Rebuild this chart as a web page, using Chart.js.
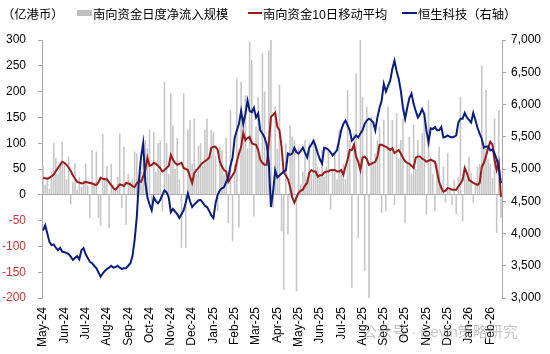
<!DOCTYPE html>
<html>
<head>
<meta charset="utf-8">
<script src="https://cdn.jsdelivr.net/npm/chart.js@4.4.1/dist/chart.umd.min.js"></script>
<style>
  body { margin: 0; background: #fff; }
  #wrap { position: relative; width: 550px; height: 354px; font-family: 'Liberation Sans', 'Noto Sans CJK SC', sans-serif; }
  #wrap span { position: absolute; white-space: nowrap; }
  .lg { top: 5px; font-size: 12.3px; color: #000; }
  .sw { top: 10px; }
  #wm { left: 362px; top: 320px; font-size: 15px; color: rgba(150,150,150,0.55); }
</style>
</head>
<body>
<div id="wrap">
  <canvas id="myChart" width="550" height="354"></canvas>
  <span class="lg" style="left:2px">（亿港币）</span>
  <span class="sw" style="left:77px;width:15px;height:6px;background:#bfbfbf"></span>
  <span class="lg" style="left:93px">南向资金日度净流入规模</span>
  <span class="sw" style="left:248px;top:12px;width:14px;height:2px;background:#9b1c1c"></span>
  <span class="lg" style="left:263px">南向资金10日移动平均</span>
  <span class="sw" style="left:402px;top:12px;width:15px;height:2px;background:#0b1e80"></span>
  <span class="lg" style="left:418px">恒生科技（右轴）</span>
  <span id="wm">公众号 · Kevin策略研究</span>
</div>
<script>
// month tick labels, one per 10 points
var months = ['May-24','Jun-24','Jul-24','Aug-24','Sep-24','Oct-24','Nov-24','Dec-24',
  'Jan-25','Feb-25','Mar-25','Apr-25','May-25','Jun-25','Jul-25','Aug-25','Sep-25',
  'Oct-25','Nov-25','Dec-25','Jan-26','Feb-26'];

// southbound daily net inflow (100m HKD)
var flowDaily = [
  55, 20, 35, 12, 45, 100, 71, 40, 60, 103,
  60, 30, 74, -19, 25, 61, 10, 35, 15, 28,
  61, 18, -45, 87, 25, 84, -45, -60, 118, 30,
  55, -65, 60, 20, 8, 35, 119, -25, 93, -58,
  40, 25, 30, 84, 80, 15, 45, 60, 106, 90,
  126, -32, 122, 45, 100, 105, -32, 219, 100, 40,
  197, 135, 50, 110, 30, -103, 197, -103, 126, 145,
  60, 148, 40, 95, 100, 55, 126, 148, 70, 126,
  122, 75, -32, 93, 87, 40, 110, -55, 164, -90,
  60, 226, -64, 219, 151, 193, 90, 297, 261, -42,
  132, 190, 70, 274, 200, 60, 280, 300, -25, 171,
  90, 213, -71, -184, 100, -77, 135, 113, 106, -187,
  93, 20, 45, 106, 30, 100, 40, 106, 96, 55,
  40, 87, 35, 55, 87, -29, 50, 80, 30, 126,
  45, 60, 30, 203, 106, -180, 119, 235, -84, 300,
  190, -148, 171, -200, 151, 60, 80, 106, 132, -35,
  145, -32, 171, 90, 145, -20, 158, 70, 106, 148,
  -55, 60, 113, 40, 136, 50, 106, 70, 119, 158,
  -38, 184, 74, 40, -32, 61, 93, 20, 55, -15,
  81, 10, -20, 29, -38, 35, 190, -52, 48, 30,
  74, 42, -15, 20, 55, 60, 251, 90, 203, 70,
  60, 32, 148, -74, 164, -45
];

// 10-day moving average
var flowMA10 = [
  33, 32, 31, 33, 36, 39, 46, 52, 58, 64,
  62, 58, 53, 46, 38, 31, 25, 24, 22, 23,
  25, 24, 23, 22, 20, 19, 24, 33, 31, 30,
  30, 24, 19, 13, 10, 15, 20, 19, 17, 23,
  22, 20, 17, 15, 22, 27, 25, 35, 48, 72,
  56, 58, 62, 60, 56, 52, 45, 48, 52, 56,
  77, 68, 62, 58, 60, 62, 52, 50, 48, 35,
  23, 42, 48, 52, 58, 62, 65, 68, 72, 91,
  93, 93, 87, 64, 55, 48, 45, 25, 32, 38,
  45, 64, 80, 93, 120, 106, 110, 112, 100, 98,
  97, 87, 68, 62, 58, 58, 100, 151, 155, 159,
  132, 125, 93, 43, 38, 30, 15, -5, -15, -5,
  4, 8, 10, 18, 23, 43, 48, 45, 45, 35,
  38, 38, 43, 45, 45, 48, 48, 48, 45, 45,
  48, 39, 55, 68, 87, 87, 97, 74, 64, 48,
  72, 74, 70, 58, 60, 62, 64, 74, 97, 97,
  95, 93, 90, 87, 90, 81, 84, 87, 80, 72,
  65, 62, 60, 56, 52, 72, 74, 74, 70, 68,
  64, 66, 68, 66, 64, 45, 25, 13, 6, 8,
  13, 12, 10, 10, 10, 16, 22, 29, 52, 42,
  29, 26, 23, 21, 19, 23, 54, 62, 75, 91,
  103, 97, 68, 48, 62, -4
];

// Hang Seng TECH index (right axis)
var hstech = [
  4050, 4130, 4000, 3870, 3820, 3830, 3780, 3740, 3780, 3720,
  3710, 3700, 3680, 3640, 3590, 3620, 3650, 3600, 3740, 3775,
  3680, 3620, 3560, 3540, 3500, 3465, 3400, 3330, 3380, 3420,
  3450, 3470, 3500, 3470, 3480, 3500, 3470, 3450, 3460, 3465,
  3500, 3540, 3650, 3900, 4250, 4820, 5180, 5400, 4800, 4560,
  4450, 4360, 4560, 4500, 4470, 4520, 4600, 4670, 4640, 4560,
  4330, 4380, 4340, 4300, 4240, 4300, 4360, 4480, 4620, 4500,
  4410, 4450, 4480, 4515, 4520, 4480, 4430, 4410, 4350, 4280,
  4240, 4470, 4600, 4670, 4700, 4720, 4800, 4870, 5050, 5180,
  5490, 5600, 5700, 5900, 5700, 5850, 6060, 5900, 5880, 5950,
  5800, 5860, 5600, 5550, 5490, 5380, 5100, 4410, 4650, 4980,
  4870, 4900, 4930, 4960, 4980, 5240, 5220, 5240, 5330, 5260,
  5240, 5280, 5330, 5250, 5180, 5330, 5380, 5440, 5350, 5240,
  5150, 5085, 5330, 5320, 5300, 5260, 5210, 5250, 5290, 5440,
  5600, 5700, 5750, 5680, 5600, 5440, 5480, 5520, 5490, 5550,
  5600, 5700, 5750, 5780, 5760, 5720, 5600, 5800, 5950, 6060,
  6320, 6200, 6290, 6370, 6550, 6680, 6520, 6400, 6210, 5950,
  5780, 5950, 6100, 6170, 6010, 5900, 5800, 5850, 5930, 5850,
  5600, 5410, 5630, 5620, 5650, 5600, 5600, 5650, 5490, 5500,
  5520, 5500, 5490, 5500, 5520, 5720, 5780, 5780, 5870, 5800,
  5760, 5720, 5870, 5760, 5640, 5550, 5470, 5330, 5350, 5350,
  5290, 5300, 5240, 5150, 5025, 4780
];

var labels = flowDaily.map(function(v, i) {
  return i % 10 === 0 ? months[i / 10] : '';
});

Chart.defaults.font.family = "'Liberation Sans', Arial, sans-serif";
Chart.defaults.font.size = 12;
Chart.defaults.color = '#000';

var axisGrey = '#a6a6a6';

var ctx = document.getElementById('myChart').getContext('2d');
var myChart = new Chart(ctx, {
  type: 'bar',
  data: {
    labels: labels,
    datasets: [
      {
        type: 'line',
        label: '恒生科技（右轴）',
        data: hstech,
        yAxisID: 'y1',
        borderColor: '#0b1e80',
        borderWidth: 2,
        pointRadius: 0,
        order: 1
      },
      {
        type: 'line',
        label: '南向资金10日移动平均',
        data: flowMA10,
        yAxisID: 'y',
        borderColor: '#9b1c1c',
        borderWidth: 2,
        pointRadius: 0,
        order: 2
      },
      {
        label: '南向资金日度净流入规模',
        data: flowDaily,
        yAxisID: 'y',
        backgroundColor: '#c6c6c6',
        barPercentage: 0.75,
        categoryPercentage: 1,
        order: 3
      }
    ]
  },
  options: {
    responsive: false,
    animation: false,
    layout: { padding: { top: 40, bottom: 0, left: 0, right: 0 } },
    plugins: { legend: { display: false }, tooltip: { enabled: false } },
    scales: {
      x: {
        grid: { display: false, drawTicks: false },
        border: { display: false },
        ticks: { autoSkip: false, minRotation: 90, maxRotation: 90, padding: 9 },
        afterFit: function(scale) { scale.height = 56; scale.paddingLeft = 0; scale.paddingRight = 0; }
      },
      y: {
        position: 'left',
        min: -200, max: 300,
        ticks: {
          stepSize: 50,
          padding: 12,
          color: function(c) { return c.tick && c.tick.value < 0 ? '#cc3333' : '#000'; }
        },
        grid: {
          color: function(c) { return c.tick && c.tick.value === 0 ? axisGrey : 'rgba(0,0,0,0)'; },
          tickColor: axisGrey,
          tickLength: 4
        },
        border: { color: axisGrey },
        afterFit: function(scale) { scale.width = 42; scale.paddingTop = 0; scale.paddingBottom = 0; }
      },
      y1: {
        position: 'right',
        min: 3000, max: 7000,
        ticks: {
          stepSize: 500,
          padding: 5,
          callback: function(v) { return v.toLocaleString('en-US'); }
        },
        grid: { drawOnChartArea: false, tickColor: axisGrey, tickLength: 4 },
        border: { color: axisGrey },
        afterFit: function(scale) { scale.width = 48; scale.paddingTop = 0; scale.paddingBottom = 0; }
      }
    }
  }
});
</script>
</body>
</html>
